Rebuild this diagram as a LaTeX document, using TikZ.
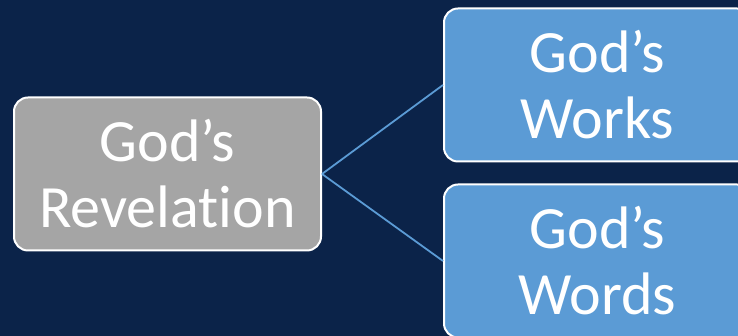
\documentclass[tikz,border=0pt]{standalone}
\usepackage{fontspec}
\setmainfont[Ligatures={NoCommon,NoContextual}]{Carlito}
\definecolor{bgnavy}{HTML}{0B2349}
\definecolor{boxgray}{HTML}{A5A5A5}
\definecolor{boxblue}{HTML}{5B9BD5}
\begin{document}
\begin{tikzpicture}[x=1pt,y=1pt,
  card/.style={draw=white, line width=2pt, rounded corners=14pt, minimum width=307pt, minimum height=153pt, inner sep=0pt, align=center, text=white, font=\fontsize{60}{66}\selectfont},
  link/.style={draw=boxblue, line width=1.8pt}]
\useasboundingbox (0,0) rectangle (738,336);
\fill[bgnavy] (0,0) rectangle (738,336);
\node[card, fill=boxgray] (rev) at (167.5,162) {God’s\\Revelation};
\node[card, fill=boxblue] (works) at (597.5,251) {God’s\\Works};
\node[card, fill=boxblue] (words) at (597.5,75) {God’s\\Words};
\draw[link] (rev.east) -- (works.west);
\draw[link] (rev.east) -- (words.west);
\end{tikzpicture}
\end{document}
